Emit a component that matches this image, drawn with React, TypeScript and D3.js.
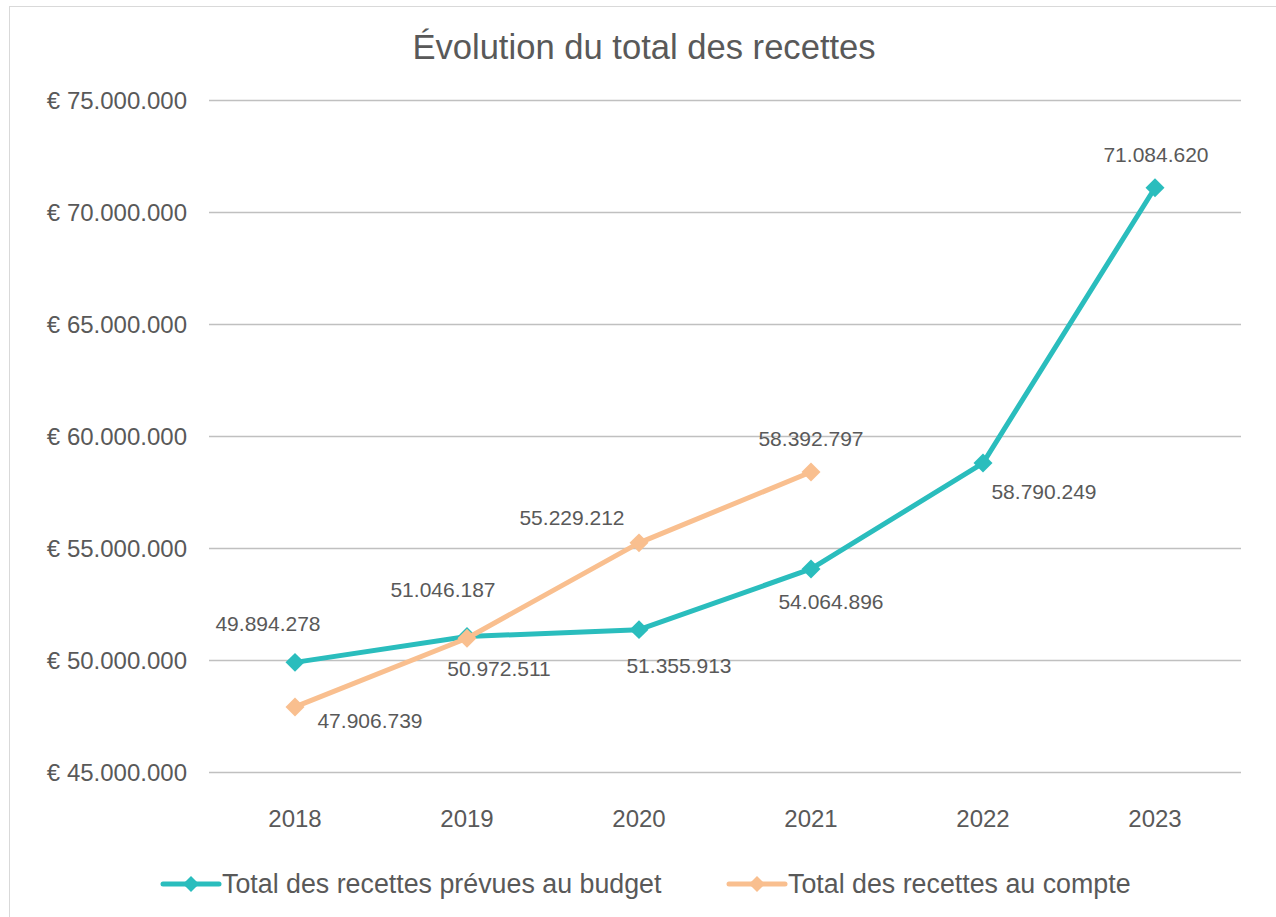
import React, { useEffect, useRef } from 'react';
import * as d3 from 'd3';

const years = ['2018', '2019', '2020', '2021', '2022', '2023'];
const budgetValues = [49894278, 51046187, 51355913, 54064896, 58790249, 71084620];
const compteValues = [47906739, 50972511, 55229212, 58392797];
const yTicks = [45000000, 50000000, 55000000, 60000000, 65000000, 70000000, 75000000];

const budgetLabelOffsets: [number, number][] = [[-27, -39], [-24, -47], [40, 36], [20, 33], [61, 28], [1, -33]];
const compteLabelOffsets: [number, number][] = [[75, 14], [32, 30], [-67, -25], [0, -34]];

const TEAL = '#2abdbd';
const ORANGE = '#f9bf8f';
const TEXT = '#595959';
const FONT = '"Liberation Sans", Arial, sans-serif';

const fmt = (v: number) => d3.format(',')(v).replace(/,/g, '.');

const App: React.FC = () => {
  const svgRef = useRef<SVGSVGElement>(null);

  useEffect(() => {
    if (!svgRef.current) return;
    const svg = d3.select(svgRef.current);
    svg.selectAll('*').remove();

    const left = 209, right = 1241, top = 100, bottom = 772;

    // Chart border
    svg.append('rect')
      .attr('x', 9.5).attr('y', 6.5)
      .attr('width', 1300).attr('height', 1000)
      .attr('fill', '#fff').attr('stroke', '#d9d9d9');

    svg.append('text')
      .attr('x', 644).attr('y', 47)
      .attr('text-anchor', 'middle').attr('dominant-baseline', 'central')
      .attr('font-family', FONT).attr('font-size', 34.6).attr('fill', TEXT)
      .text('Évolution du total des recettes');

    const x = d3.scaleBand<string>().domain(years).range([left, right]);
    const y = d3.scaleLinear().domain([45000000, 75000000]).range([bottom, top]);
    const cx = (i: number) => (x(years[i]) as number) + x.bandwidth() / 2;

    // Gridlines
    svg.append('g').selectAll('line').data(yTicks).join('line')
      .attr('x1', left).attr('x2', right)
      .attr('y1', d => Math.round(y(d)) + 0.5).attr('y2', d => Math.round(y(d)) + 0.5)
      .attr('stroke', '#c0c0c0').attr('stroke-width', 1.5);

    // Y labels
    svg.append('g').selectAll('text').data(yTicks).join('text')
      .attr('x', 187).attr('y', d => y(d))
      .attr('text-anchor', 'end').attr('dominant-baseline', 'central')
      .attr('font-family', FONT).attr('font-size', 24).attr('fill', TEXT)
      .text(d => '€ ' + fmt(d));

    // X labels
    svg.append('g').selectAll('text').data(years).join('text')
      .attr('x', (_, i) => cx(i)).attr('y', 818)
      .attr('text-anchor', 'middle').attr('dominant-baseline', 'central')
      .attr('font-family', FONT).attr('font-size', 24).attr('fill', TEXT)
      .text(d => d);

    const line = d3.line<number>().x((_, i) => cx(i)).y(d => y(d));
    const diamond = d3.symbol().type(d3.symbolSquare).size(180);

    const drawSeries = (vals: number[], color: string) => {
      svg.append('path').datum(vals)
        .attr('d', line).attr('fill', 'none')
        .attr('stroke', color).attr('stroke-width', 5).attr('stroke-linejoin', 'round');
      svg.append('g').selectAll('path').data(vals).join('path')
        .attr('d', diamond)
        .attr('transform', (d, i) => `translate(${cx(i)},${y(d)}) rotate(45)`)
        .attr('fill', color);
    };
    drawSeries(budgetValues, TEAL);
    drawSeries(compteValues, ORANGE);

    const drawLabels = (vals: number[], offs: [number, number][]) => {
      svg.append('g').selectAll('text').data(vals).join('text')
        .attr('x', (_, i) => cx(i) + offs[i][0]).attr('y', (d, i) => y(d) + offs[i][1])
        .attr('text-anchor', 'middle').attr('dominant-baseline', 'central')
        .attr('font-family', FONT).attr('font-size', 21).attr('fill', TEXT)
        .text(d => fmt(d));
    };
    drawLabels(budgetValues, budgetLabelOffsets);
    drawLabels(compteValues, compteLabelOffsets);

    // Legend
    const legend = [
      { name: 'Total des recettes prévues au budget', color: TEAL, x: 163 },
      { name: 'Total des recettes au compte', color: ORANGE, x: 729 },
    ];
    const lg = svg.append('g').selectAll('g').data(legend).join('g')
      .attr('transform', d => `translate(${d.x},884)`);
    lg.append('line').attr('x1', 0).attr('x2', 56).attr('y1', 0).attr('y2', 0)
      .attr('stroke', d => d.color).attr('stroke-width', 5).attr('stroke-linecap', 'round');
    lg.append('path').attr('d', d3.symbol().type(d3.symbolSquare).size(130))
      .attr('transform', 'translate(28,0) rotate(45)').attr('fill', d => d.color);
    lg.append('text').attr('x', 59).attr('y', 0)
      .attr('dominant-baseline', 'central')
      .attr('font-family', FONT).attr('font-size', 26.8).attr('fill', TEXT)
      .text(d => d.name);
  }, []);

  return (
    <svg ref={svgRef} width={1276} height={917}
      style={{ position: 'absolute', left: 0, top: 0, display: 'block' }} />
  );
};

export default App;
